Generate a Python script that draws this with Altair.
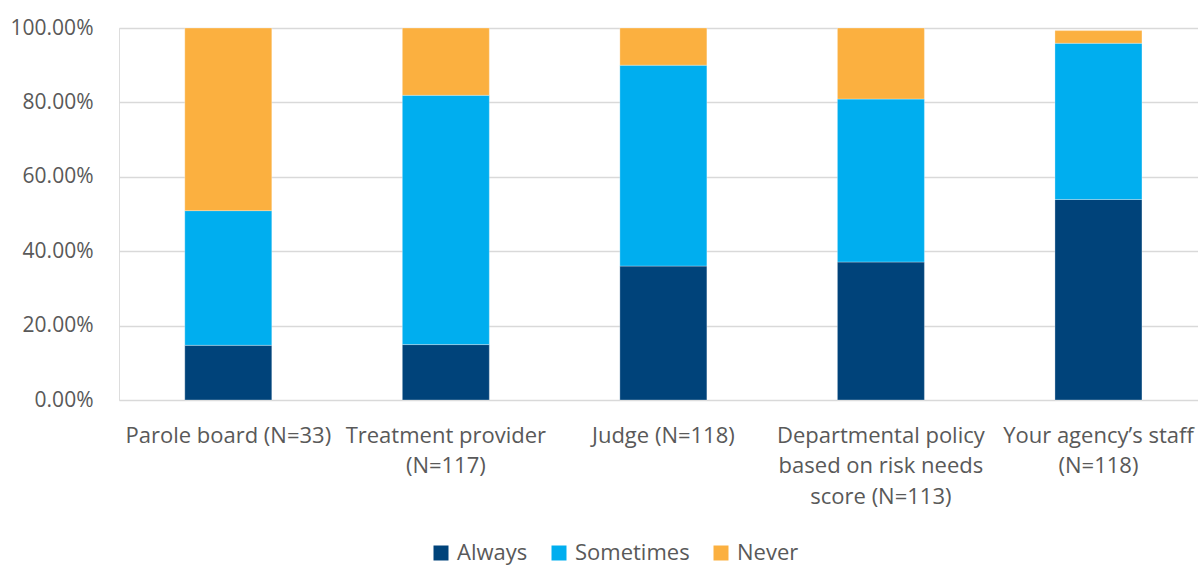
import altair as alt
import pandas as pd

# Source of decision, share of responses per category
categories = [
    "Parole board (N=33)",
    "Treatment provider|(N=117)",
    "Judge (N=118)",
    "Departmental policy|based on risk needs|score (N=113)",
    "Your agency\u2019s staff|(N=118)",
]
always = [0.147, 0.149, 0.360, 0.371, 0.539]
sometimes = [0.362, 0.670, 0.540, 0.438, 0.420]
never = [0.491, 0.181, 0.100, 0.191, 0.034]

responses = ["Always", "Sometimes", "Never"]
colors = ["#00437A", "#00AEEF", "#FBB040"]

rows = []
for i, cat in enumerate(categories):
    for k, (resp, vals) in enumerate(zip(responses, [always, sometimes, never])):
        rows.append({"category": cat, "response": resp, "value": vals[i], "order": k})
df = pd.DataFrame(rows)

font = "Open Sans"
gray = "#595959"

chart = (
    alt.Chart(df)
    .mark_bar(stroke="white", strokeWidth=0.6, strokeOpacity=0.5)
    .encode(
        x=alt.X(
            "category:N",
            sort=categories,
            title=None,
            scale=alt.Scale(paddingInner=0.6, paddingOuter=0.28, align=0.54),
            axis=alt.Axis(
                labelAngle=0,
                labelExpr="split(datum.label, '|')",
                labelFont=font,
                labelFontSize=22,
                labelColor=gray,
                labelLineHeight=30.5,
                labelPadding=25,
                labelBaseline="top",
                ticks=False,
                domain=False,
                grid=False,
                labelLimit=300,
            ),
        ),
        y=alt.Y(
            "value:Q",
            stack="zero",
            title=None,
            scale=alt.Scale(domain=[0, 1], nice=False),
            axis=alt.Axis(
                format=".2%",
                values=[0, 0.2, 0.4, 0.6, 0.8, 1.0],
                labelFont=font,
                labelFontSize=21,
                labelColor=gray,
                labelPadding=26,
                ticks=False,
                domain=False,
                gridColor="#D9D9D9",
                gridWidth=1.5,
            ),
        ),
        color=alt.Color(
            "response:N",
            sort=responses,
            scale=alt.Scale(domain=responses, range=colors),
            legend=alt.Legend(
                title=None,
                orient="none",
                direction="horizontal",
                legendX=311,
                legendY=514,
                symbolType="square",
                symbolSize=225,
                symbolStrokeWidth=0,
                labelFont=font,
                labelFontSize=22,
                labelColor=gray,
                labelOffset=5,
                columnPadding=20,
            ),
        ),
        order=alt.Order("order:Q", sort="ascending"),
    )
    .properties(
        width=1079,
        height=372,
        autosize=alt.AutoSizeParams(type="none"),
        padding={"left": 119, "top": 28, "right": 0, "bottom": 167},
    )
    .configure_view(stroke=None)
    .configure(background="white")
)

chart.save("out.html", embed_options={"renderer": "svg", "actions": False})
